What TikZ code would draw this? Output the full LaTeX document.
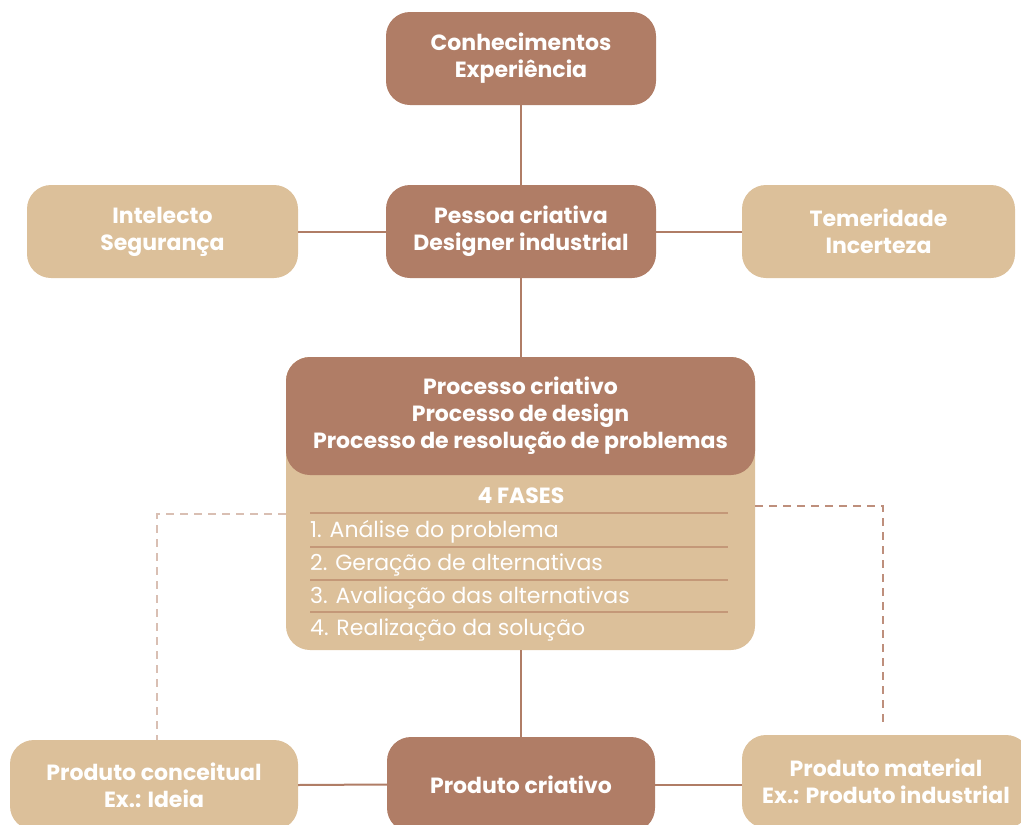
\documentclass[tikz,border=0pt]{standalone}
\usepackage{fontspec}
\setmainfont{Poppins}
\begin{document}
\begin{tikzpicture}[x=1pt,y=-1pt,
  dark/.style={fill=darkbrown,draw=none,rounded corners=24pt,text=white,font=\bfseries\fontsize{22}{27}\selectfont,align=center,inner sep=0pt},
  tan/.style={fill=tanbox,draw=none,rounded corners=24pt,text=white,font=\bfseries\fontsize{22}{27}\selectfont,align=center,inner sep=0pt},
  link/.style={draw=linkc,line width=2pt},
  dashlink/.style={line width=2pt,dash pattern=on 8pt off 6pt},
  fase/.style={text=white,font=\fontsize{22}{24}\selectfont,anchor=west,inner sep=0pt},
  sep/.style={draw=sepc,line width=1.5pt}]
\definecolor{darkbrown}{HTML}{B07D66}
\definecolor{tanbox}{HTML}{DCC09A}
\definecolor{linkc}{HTML}{B07D66}
\definecolor{sepc}{HTML}{C49878}
\definecolor{dashl}{HTML}{D9BFB3}
\definecolor{dashr}{HTML}{BE8F7C}
\useasboundingbox (0,0) rectangle (1021,825);
\clip (0,0) rectangle (1021,825);
% boxes
\node[dark,minimum width=270pt,minimum height=93pt] (top) at (521,58.5) {Conhecimentos\\Experiência};
\node[dark,minimum width=270pt,minimum height=93pt] (pes) at (521,231.5) {Pessoa criativa\\Designer industrial};
\node[tan,minimum width=271pt,minimum height=93pt] (int) at (162.5,231.5) {Intelecto\\Segurança};
\node[tan,minimum width=273pt,minimum height=93pt] (tem) at (878.5,231.5) {Temeridade\\Incerteza};
\node[tan,minimum width=469pt,minimum height=293pt] (proc) at (520.5,503.5) {};
\node[dark,minimum width=469pt,minimum height=118pt] (hdr) at (520.5,416) {Processo criativo\\Processo de design\\Processo de resolução de problemas};
\node[tan,minimum width=288pt,minimum height=90pt] (conc) at (154,785) {Produto conceitual\\Ex.: Ideia};
\node[dark,minimum width=268pt,minimum height=95pt] (cri) at (521,784.5) {Produto criativo};
\node[tan,minimum width=288pt,minimum height=93pt] (mat) at (886,781.5) {Produto material\\Ex.: Produto industrial};
% fases
\node[text=white,font=\bfseries\fontsize{22}{24}\selectfont,inner sep=0pt] (fases) at (521,496) {4 FASES};
\coordinate (sl) at (310,0);
\coordinate (sr) at (728,0);
\foreach \yy in {513,547,580,612} \draw[sep] (sl |- 0,\yy) -- (sr |- 0,\yy);
\node[fase] (f1) at (310,532) {1. Análise do problema};
\node[fase] (f2) at (310,565) {2. Geração de alternativas};
\node[fase] (f3) at (310,598) {3. Avaliação das alternativas};
\node[fase] (f4) at (310,630) {4. Realização da solução};
% connectors
\draw[link] (top.south) -- (pes.north);
\draw[link] (int.east) -- (pes.west);
\draw[link] (pes.east) -- (tem.west);
\draw[link] (pes.south) -- (pes.south |- hdr.north);
\draw[link] (proc.south -| cri.north) -- (cri.north);
\draw[link] (conc.east) -- (cri.west);
\draw[link] (cri.east) -- (cri.east -| mat.west);
% dashed
\coordinate (dl) at (157,514);
\coordinate (dr) at (883,506);
\draw[dashlink,draw=dashl] (proc.west |- dl) -- (dl) -- (dl |- conc.north);
\draw[dashlink,draw=dashr,shorten >=7pt] (proc.east |- dr) -- (dr) -- (dr |- mat.north);
\end{tikzpicture}
\end{document}
